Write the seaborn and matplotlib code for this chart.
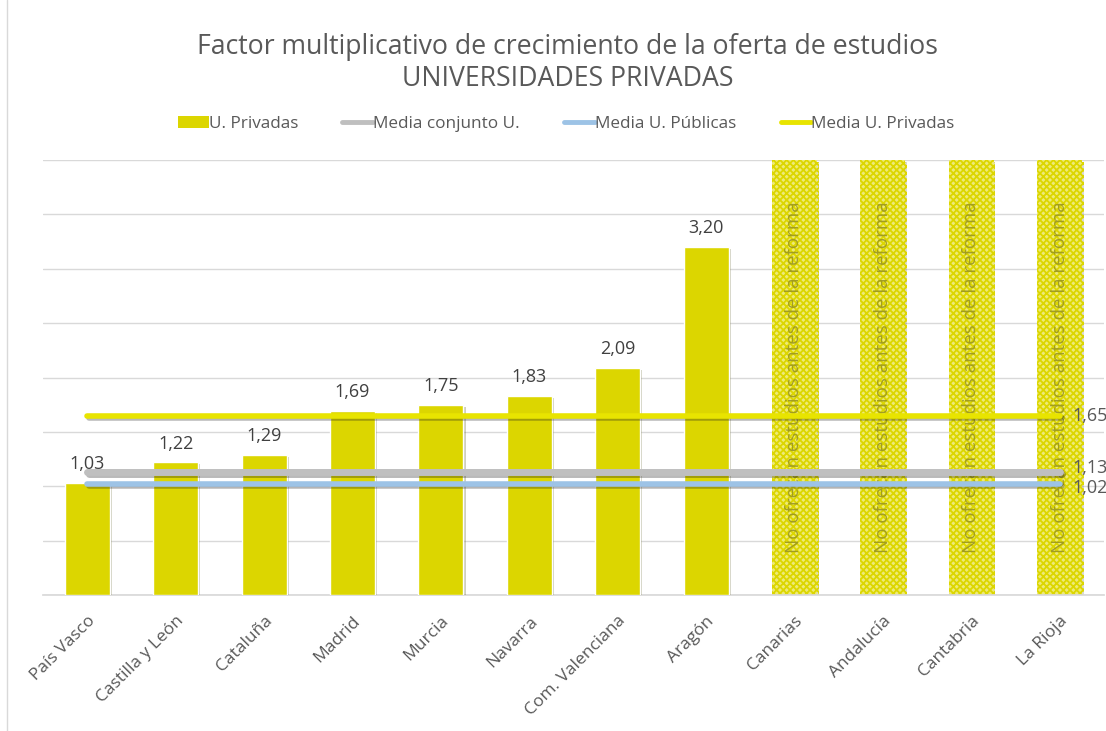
import numpy as np
import pandas as pd
import seaborn as sns
import matplotlib.pyplot as plt
from matplotlib import patheffects as pe
from matplotlib.lines import Line2D
from matplotlib.patches import Patch

# data
regiones = ["País Vasco", "Castilla y León", "Cataluña", "Madrid", "Murcia",
            "Navarra", "Com. Valenciana", "Aragón", "Canarias", "Andalucía",
            "Cantabria", "La Rioja"]
factor_privadas = [1.03, 1.22, 1.29, 1.69, 1.75, 1.83, 2.09, 3.20,
                   np.nan, np.nan, np.nan, np.nan]
sin_oferta = ["Canarias", "Andalucía", "Cantabria", "La Rioja"]
media_conjunto = 1.13
media_publicas = 1.02
media_privadas = 1.65
ymax = 4.0

BAR = "#DCD600"
GREY_TXT = "#595959"

sns.set_theme(style="white")
plt.rcParams["font.family"] = ["Open Sans", "DejaVu Sans"]
plt.rcParams["hatch.linewidth"] = 1.3

fig = plt.figure(figsize=(11.06, 7.31), dpi=100)
ax = fig.add_axes([0.039, 0.186, 0.959, 0.595])

df = pd.DataFrame({"region": regiones, "valor": factor_privadas})
sns.barplot(data=df, x="region", y="valor", order=regiones, color=BAR,
            saturation=1, width=0.51, ax=ax, zorder=3)
for p in ax.patches:
    p.set_path_effects([pe.SimplePatchShadow(offset=(1.5, -1.5), alpha=0.25),
                        pe.Normal()])

# hatched bars for regions without previous offer
pos = [regiones.index(r) for r in sin_oferta]
hb = ax.bar(pos, [ymax] * len(pos), width=0.51, facecolor="#EEEA78",
            edgecolor=BAR, hatch="xxxxx", linewidth=0, zorder=2)
for p in hb:
    p.set_path_effects([pe.SimplePatchShadow(offset=(1.2, -1.2), alpha=0.2),
                        pe.Normal()])
for x in pos:
    ax.text(x, ymax / 2, "No ofrecan estudios antes de la reforma", rotation=90,
            ha="center", va="center", fontsize=13.5, color="#9A9620",
            alpha=0.9, zorder=3.5)

# value labels
for i, v in enumerate(factor_privadas):
    if not np.isnan(v):
        ax.text(i, v + 0.09, f"{v:.2f}".replace(".", ","), ha="center",
                va="bottom", fontsize=13, color="#404040", zorder=6)

# mean lines
xs = np.arange(len(regiones))
lineas = [(media_conjunto, "#BFBFBF", 5, 0.04),
          (media_publicas, "#9DC3E6", 4, -0.04),
          (media_privadas, "#E8E400", 4, 0.0)]
for val, col, lw, dy in lineas:
    sns.lineplot(x=xs, y=[val] * len(xs), color=col, linewidth=lw, ax=ax,
                 zorder=4,
                 path_effects=[pe.SimpleLineShadow(offset=(1.5, -1.5), alpha=0.3),
                               pe.Normal()])
    ax.text(xs[-1] + 0.14, val + dy, f"{val:.2f}".replace(".", ","),
            ha="left", va="center", fontsize=13, color=GREY_TXT, zorder=6,
            clip_on=False)

ax.set_xlim(-0.5, 11.5)
ax.set_ylim(0, ymax)
ax.set_yticks(np.arange(0, ymax + 0.01, 0.5))
ax.set_yticklabels([])
ax.tick_params(axis="y", length=0)
ax.grid(axis="y", color="#D9D9D9", linewidth=1)
ax.set_axisbelow(True)
ax.set_xlabel("")
ax.set_ylabel("")
ax.set_xticks(xs)
ax.set_xticklabels(regiones, rotation=45, ha="right", rotation_mode="anchor",
                   fontsize=12.5, color=GREY_TXT)
ax.tick_params(axis="x", length=0, pad=13)
for s in ["top", "right", "left"]:
    ax.spines[s].set_visible(False)
ax.spines["bottom"].set_color("#D9D9D9")

fig.text(0.513, 0.914, "Factor multiplicativo de crecimiento de la oferta de estudios\nUNIVERSIDADES PRIVADAS",
         ha="center", va="center", fontsize=19.2, color=GREY_TXT,
         linespacing=1.2)

handles = [Patch(facecolor=BAR, edgecolor="none"),
           Line2D([], [], color="#BFBFBF", lw=3.5),
           Line2D([], [], color="#9DC3E6", lw=3.5),
           Line2D([], [], color="#E8E400", lw=3.5)]
labels = ["U. Privadas", "Media conjunto U.", "Media U. Públicas",
          "Media U. Privadas"]
fig.legend(handles, labels, loc="center", bbox_to_anchor=(0.512, 0.830),
           ncol=4, frameon=False, fontsize=12.3, handlelength=1.8,
           handletextpad=0.0, columnspacing=2.6, labelcolor=GREY_TXT)

# chart area border on the left
fig.add_artist(Line2D([0.0065, 0.0065], [0, 1], color="#D9D9D9", lw=1,
                      transform=fig.transFigure))

fig.savefig("out.png", dpi=100, facecolor="white")
